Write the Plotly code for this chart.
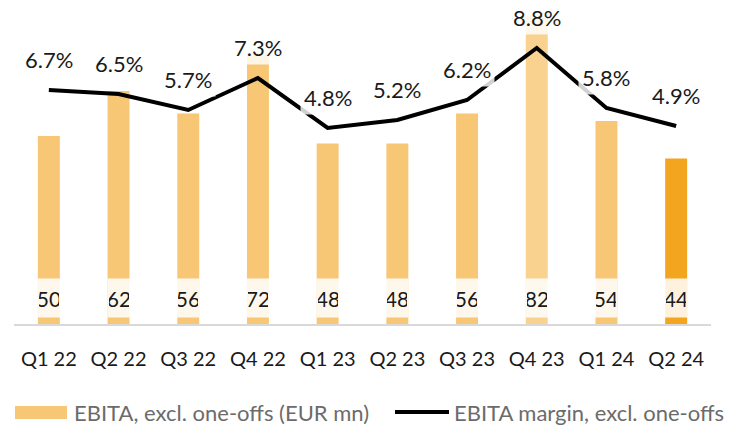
import plotly.graph_objects as go

categories = ["Q1 22", "Q2 22", "Q3 22", "Q4 22", "Q1 23", "Q2 23", "Q3 23", "Q4 23", "Q1 24", "Q2 24"]
ebita = [50, 62, 56, 72, 48, 48, 56, 82, 54, 44]
margin = [6.7, 6.5, 5.7, 7.3, 4.8, 5.2, 6.2, 8.8, 5.8, 4.9]
bar_colors = ["#F8C775"] * 7 + ["#F9D290", "#F8C775", "#F4A520"]
legend_bar = "EBITA, excl. one-offs (EUR mn)"
legend_line = "EBITA margin, excl. one-offs"

W, H = 734, 425
L, R, T, B = 14, 23, 10, 101
PW, PH = W - L - R, H - T - B
FONT = "Lato"


def px_x(x):
    return (x - L) / PW


def px_y(y):
    return (H - B - y) / PH


fig = go.Figure()
fig.add_trace(go.Bar(x=categories, y=ebita, marker=dict(color=bar_colors, line=dict(width=0)),
                     width=0.315, showlegend=False, hoverinfo="skip"))
fig.add_trace(go.Scatter(x=categories, y=margin, yaxis="y2", mode="lines",
                         line=dict(color="#000000", width=4), showlegend=False, hoverinfo="skip"))

ann = []
for c, v in zip(categories, ebita):
    ann.append(dict(x=c, y=0, xref="x", yref="y", text=str(v), showarrow=False,
                    yanchor="bottom", yshift=6, width=20, height=36, borderpad=1,
                    bgcolor="rgba(255,255,255,0.86)", font=dict(family=FONT, size=21, color="#1a1a1a")))
for c, v in zip(categories, margin):
    ann.append(dict(x=c, y=v, xref="x", yref="y2", text=f"{v:.1f}%", showarrow=False,
                    yanchor="bottom", yshift=13, height=28, borderpad=3,
                    bgcolor="rgba(255,255,255,0.82)", font=dict(family=FONT, size=22, color="#1a1a1a")))

# custom legend
shapes = [
    dict(type="rect", xref="paper", yref="paper", x0=px_x(15), x1=px_x(67), y0=px_y(419), y1=px_y(406),
         fillcolor="#F8C775", line=dict(width=0)),
    dict(type="line", xref="paper", yref="paper", x0=px_x(395), x1=px_x(449), y0=px_y(412), y1=px_y(412),
         line=dict(color="#000000", width=4)),
]
ann.append(dict(x=px_x(72), y=px_y(412), xref="paper", yref="paper", text=legend_bar, showarrow=False,
                xanchor="left", yanchor="middle", font=dict(family=FONT, size=22, color="#6b6b6b")))
ann.append(dict(x=px_x(452), y=px_y(412), xref="paper", yref="paper", text=legend_line, showarrow=False,
                xanchor="left", yanchor="middle", font=dict(family=FONT, size=22, color="#6b6b6b")))

fig.update_layout(
    width=W, height=H,
    margin=dict(l=L, r=R, t=T, b=B),
    paper_bgcolor="white", plot_bgcolor="white",
    showlegend=False,
    annotations=ann,
    shapes=shapes,
    xaxis=dict(showgrid=False, showline=True, linecolor="#d9d9d9", linewidth=2, ticks="",
               tickfont=dict(family=FONT, size=20, color="#1a1a1a"), ticklabelstandoff=16,
               range=[-0.5, 9.5]),
    yaxis=dict(visible=False, range=[0, PH / 3.76]),
    yaxis2=dict(visible=False, overlaying="y", range=[-5, -5 + PH / 20]),
)

fig.write_html("out.html", config={"displayModeBar": False},
               post_script="document.body.style.margin='0';document.body.style.overflow='hidden';")
